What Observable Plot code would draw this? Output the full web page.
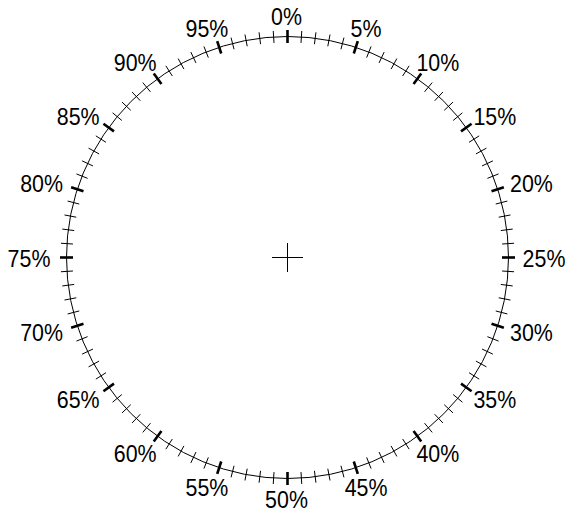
<!DOCTYPE html>
<html>
<head>
<meta charset="utf-8">
<script src="https://cdn.jsdelivr.net/npm/d3@7"></script>
<script src="https://cdn.jsdelivr.net/npm/@observablehq/plot@0.6"></script>
<style>
  html, body { margin: 0; padding: 0; background: #fff; }
  #chart svg { display: block; }
</style>
</head>
<body>
<div id="chart"></div>
<script>
// Tick positions (percent of the full circle)
const minorTicks = d3.range(0, 100, 1);
const majorTicks = [0, 5, 10, 15, 20, 25, 30, 35, 40, 45, 50, 55, 60, 65, 70, 75, 80, 85, 90, 95];
const tickLabels = ["0%", "5%", "10%", "15%", "20%", "25%", "30%", "35%", "40%", "45%",
                    "50%", "55%", "60%", "65%", "70%", "75%", "80%", "85%", "90%", "95%"];

const R = 221;          // circle radius (in scale units = pixels)
const fs = 23.5;        // label font size
const ang = p => p / 100 * 2 * Math.PI;

function tickSeg(p, half) {
  const a = ang(p), s = Math.sin(a), c = Math.cos(a);
  return {x1: (R - half) * s, y1: (R - half) * c, x2: (R + half) * s, y2: (R + half) * c};
}
const minorSegs = minorTicks.filter(p => p % 5 !== 0).map(p => tickSeg(p, 6));
const majorSegs = majorTicks.map(p => tickSeg(p, 6.5));

// label centres lie on an ellipse around the circle (wider horizontally)
const labelData = majorTicks.map((p, i) => {
  const a = ang(p), s = Math.sin(a), c = Math.cos(a);
  return {label: tickLabels[i], x: -1 + 257.5 * s, y: -1.5 + 241.5 * c};
});

const cross = [
  {x1: -15.5, y1: 0, x2: 15.5, y2: 0},
  {x1: 0, y1: -14.5, x2: 0, y2: 14.5}
];

const chart = Plot.plot({
  width: 567,
  height: 510,
  marginLeft: 66,
  marginRight: 59,
  marginTop: 36,
  marginBottom: 32,
  x: {domain: [-R, R], axis: null},
  y: {domain: [-R, R], axis: null},
  style: {fontFamily: "'Liberation Sans', Arial, Helvetica, sans-serif", background: "#fff"},
  marks: [
    Plot.dot([{x: 0, y: 0}], {x: "x", y: "y", r: R, stroke: "black", strokeWidth: 1, fill: "none"}),
    Plot.link(minorSegs, {x1: "x1", y1: "y1", x2: "x2", y2: "y2", stroke: "black", strokeWidth: 1}),
    Plot.link(majorSegs, {x1: "x1", y1: "y1", x2: "x2", y2: "y2", stroke: "black", strokeWidth: 2.6}),
    Plot.link(cross, {x1: "x1", y1: "y1", x2: "x2", y2: "y2", stroke: "black", strokeWidth: 1}),
    Plot.text(labelData, {x: "x", y: "y", text: "label", fontSize: fs, fill: "black",
                          textAnchor: "middle", lineAnchor: "middle", className: "labels"})
  ]
});
document.getElementById("chart").appendChild(chart);
// slightly condense the label glyphs horizontally (keeps their positions)
chart.querySelectorAll("text").forEach(t => {
  try {
    const len = t.getComputedTextLength();
    if (len > 0) {
      t.setAttribute("textLength", (len * 0.91).toFixed(2));
      t.setAttribute("lengthAdjust", "spacingAndGlyphs");
    }
  } catch (e) {}
});
</script>
</body>
</html>
